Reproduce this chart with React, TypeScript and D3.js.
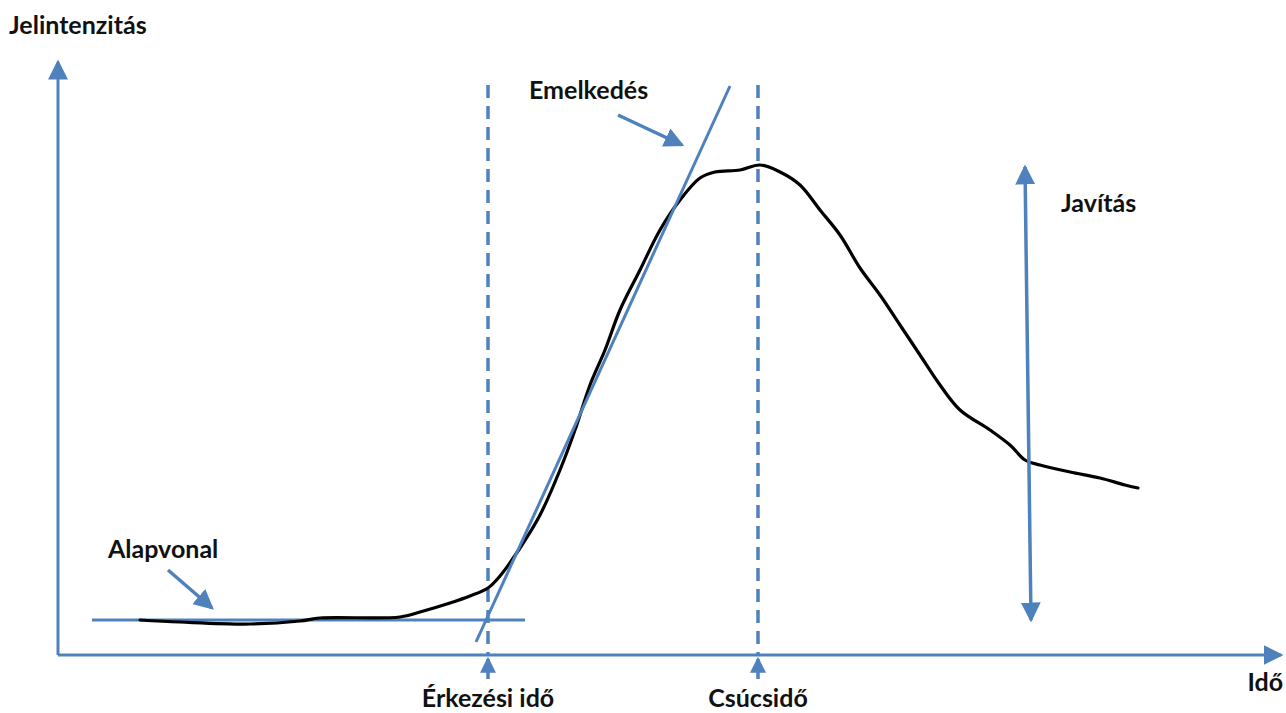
import React from "react";
import * as d3 from "d3";

// Signal intensity curve (time units, intensity units)
const curveTime = [8.2, 12.2, 19.2, 24.2, 26.2, 34.2, 36.2, 39.2, 41.2, 43, 44.2, 46.2, 48.2, 50.2, 51.7, 53.2, 54.7, 56.2, 58.2, 60.2, 62.2, 64.2, 65.7, 68.2, 70.2, 72.2, 74.2, 76.2, 78.2, 80.2, 82.2, 84.2, 86.2, 88.2, 90.2, 93.2, 95.2, 96.7, 98.2, 101.2, 104.2, 106.7, 108];
const curveIntensity = [7, 6.6, 6.2, 6.8, 7.4, 7.6, 8.6, 10.4, 11.8, 13.4, 15.8, 21.4, 28, 37, 45, 54, 61, 69, 77, 85, 91, 95.4, 96.6, 97, 98, 96.6, 94, 89, 84, 77.4, 72, 66, 60, 54, 49, 45, 42, 39, 38, 36.6, 35.4, 34, 33.4];

const baselineLevel = 7;
const baselineRange = [3.4, 46.7];
const slopeStart = [41.8, 2.6];
const slopeEnd = [67.2, 113.8];
const arrivalTime = 43;
const peakTime = 70;
const dashedTop = 114;
const enhancementArrow = [[96.7, 97.6], [97.3, 7]];
const baselinePointer = [[11, 17], [15.4, 9.4]];
const slopePointer = [[56, 108], [62.4, 102]];

const xDomain = [0, 122.5];
const yDomain = [0, 119];

const BLUE = "#4f81bd";
const FONT = "Lato, 'Open Sans', sans-serif";

export default function App() {
  const x = d3.scaleLinear().domain(xDomain).range([58, 1283]);
  const y = d3.scaleLinear().domain(yDomain).range([655, 60]);

  const pts: [number, number][] = curveTime.map((t, i) => [t, curveIntensity[i]]);
  const line = d3
    .line<[number, number]>()
    .x((d) => x(d[0]))
    .y((d) => y(d[1]))
    .curve(d3.curveCatmullRom.alpha(0.5));

  const seg = (a: number[], b: number[]) => ({ x1: x(a[0]), y1: y(a[1]), x2: x(b[0]), y2: y(b[1]) });

  const textStyle: React.CSSProperties = { fontFamily: FONT, fontWeight: 700, fontSize: 25, fill: "#111" };

  return (
    <svg width={1286} height={713} style={{ position: "absolute", left: 0, top: 0, background: "#fff" }}>
      <defs>
        <marker id="ah" markerUnits="userSpaceOnUse" markerWidth={20} markerHeight={20} refX={14} refY={8} orient="auto-start-reverse" viewBox="0 0 16 16">
          <path d="M0,0 L16,8 L0,16 Z" fill={BLUE} />
        </marker>
        <marker id="ahs" markerUnits="userSpaceOnUse" markerWidth={16} markerHeight={16} refX={12} refY={7} orient="auto-start-reverse" viewBox="0 0 14 14">
          <path d="M0,0 L14,7 L0,14 Z" fill={BLUE} />
        </marker>
      </defs>

      {/* axes */}
      <line x1={x(0)} y1={y(0)} x2={x(0)} y2={y(yDomain[1]) + 2} stroke={BLUE} strokeWidth={3} markerEnd="url(#ah)" />
      <line x1={x(0)} y1={y(0)} x2={x(xDomain[1]) - 2} y2={y(0)} stroke={BLUE} strokeWidth={3} markerEnd="url(#ah)" />

      {/* dashed verticals */}
      {[arrivalTime, peakTime].map((t) => (
        <g key={t}>
          <line x1={x(t)} x2={x(t)} y1={y(dashedTop)} y2={y(0)} stroke={BLUE} strokeWidth={3.5} strokeDasharray="13,8" />
          <line x1={x(t)} x2={x(t)} y1={y(0) + 24} y2={y(0) + 4} stroke={BLUE} strokeWidth={3.5} markerEnd="url(#ahs)" />
        </g>
      ))}

      {/* baseline */}
      <line x1={x(baselineRange[0])} x2={x(baselineRange[1])} y1={y(baselineLevel)} y2={y(baselineLevel)} stroke={BLUE} strokeWidth={3} />

      {/* curve */}
      <path d={line(pts) || ""} fill="none" stroke="#000" strokeWidth={3.2} strokeLinejoin="round" strokeLinecap="round" />

      {/* slope tangent */}
      <line {...seg(slopeStart, slopeEnd)} stroke={BLUE} strokeWidth={3} />

      {/* enhancement double arrow */}
      <line {...seg(enhancementArrow[0], enhancementArrow[1])} stroke={BLUE} strokeWidth={3.5} markerStart="url(#ah)" markerEnd="url(#ah)" />

      {/* pointers */}
      <line {...seg(baselinePointer[0], baselinePointer[1])} stroke={BLUE} strokeWidth={3.5} markerEnd="url(#ah)" />
      <line {...seg(slopePointer[0], slopePointer[1])} stroke={BLUE} strokeWidth={3.5} markerEnd="url(#ah)" />

      {/* labels */}
      <text x={9} y={34} style={textStyle}>Jelintenzitás</text>
      <text x={108} y={558} style={textStyle}>Alapvonal</text>
      <text x={529} y={99} style={textStyle}>Emelkedés</text>
      <text x={1061} y={212} style={textStyle}>Javítás</text>
      <text x={x(arrivalTime)} y={707} textAnchor="middle" style={textStyle}>Érkezési idő</text>
      <text x={x(peakTime)} y={707} textAnchor="middle" style={textStyle}>Csúcsidő</text>
      <text x={1283} y={691} textAnchor="end" style={textStyle}>Idő</text>
    </svg>
  );
}
